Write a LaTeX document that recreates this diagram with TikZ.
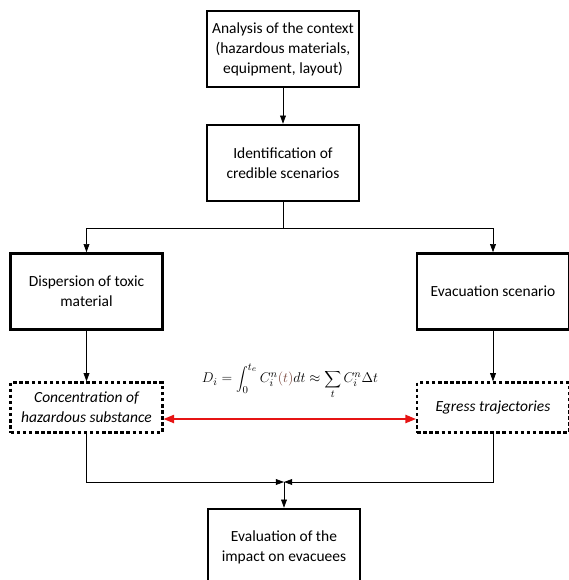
\documentclass[tikz,border=0pt]{standalone}
\usepackage{fontspec}
\setmainfont{Carlito}
\usetikzlibrary{arrows.meta,positioning}
\definecolor{inkred}{RGB}{230,20,20}
\definecolor{paren}{RGB}{120,70,60}
\newcommand{\comma}{,}

\begin{document}
\begin{tikzpicture}[x=0.03cm,y=-0.03cm,
    stagebox/.style={draw,line width=2.2pt,minimum width=4.55cm,minimum height=2.28cm,
      align=center,inner sep=0pt,font=\fontsize{13.2}{17}\selectfont},
    resultbox/.style={stagebox,line width=2pt,minimum height=1.5cm,
      dash pattern=on 3pt off 2.2pt,font=\fontsize{13.2}{17}\selectfont\itshape},
    flow/.style={-{Triangle[length=7pt,width=5pt]},line width=0.6pt},
    link/.style={{Triangle[length=9pt,width=7pt]}-{Triangle[length=9pt,width=7pt]},
      line width=1.4pt,inkred}]
  \useasboundingbox (0,0) rectangle (569,580);
  \clip (0,0) rectangle (569,580);
  % main steps
  \foreach \n/\x/\y/\t in {
      ctx/283/49/Analysis of the context\\(hazardous materials\comma\\equipment\comma{} layout),
      scen/283/163/Identification of\\credible scenarios,
      disp/86.5/291.5/Dispersion of toxic\\material,
      evac/493/291.5/Evacuation scenario,
      impact/284/547/Evaluation of the\\impact on evacuees}
  {
    \node[stagebox] (\n) at (\x,\y) {\t};
  }
  % intermediate results
  \node[resultbox] (conc) at (86.5,407.5) {Concentration of\\hazardous substance};
  \node[resultbox] (egress) at (493,407.5) {Egress trajectories};
  \node[font=\fontsize{13.2}{15}\selectfont] (dose) at (290,381)
    {$\displaystyle D_i=\int_0^{t_e}C_i^n{\color{paren}(t)}dt\approx\sum_t C_i^n\Delta t$};
  % connectors
  \draw[flow] (ctx) -- (scen);
  \draw[line width=0.6pt] (scen.south) -- ++(0,26) coordinate (split);
  \draw[flow] (split) -| (disp);
  \draw[flow] (split) -| (evac);
  \draw[flow] (disp) -- (conc);
  \draw[flow] (evac) -- (egress);
  \draw[link] (conc.east |- 0,419) -- (egress.west |- 0,419);
  \coordinate (join) at (284,482);
  \draw[flow] (conc.south) |- (join);
  \draw[flow] (egress.south) |- (join);
  \draw[flow] (join) -- (impact);
\end{tikzpicture}
\end{document}
